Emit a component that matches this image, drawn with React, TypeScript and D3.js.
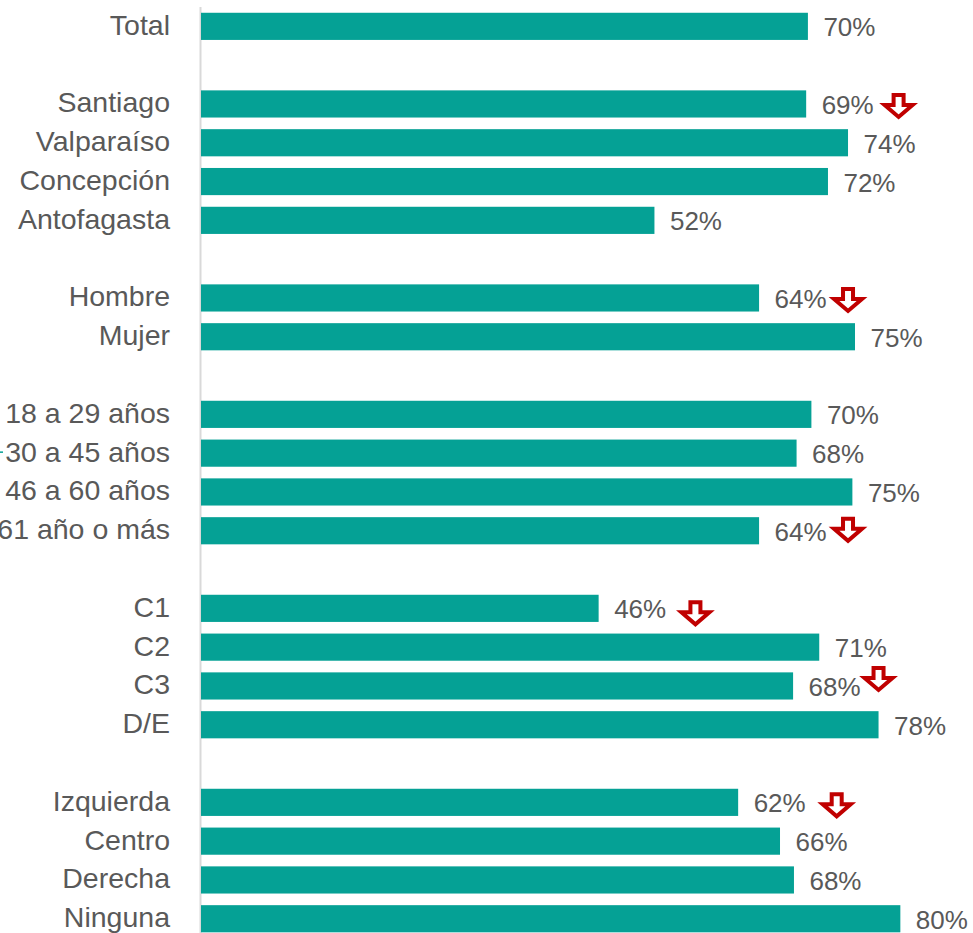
import React from "react";
import * as d3 from "d3";

const categories = [
  "Total", "", "Santiago", "Valparaíso", "Concepción", "Antofagasta", " ",
  "Hombre", "Mujer", "  ", "18 a 29 años", "30 a 45 años", "46 a 60 años", "61 año o más", "   ",
  "C1", "C2", "C3", "D/E", "    ", "Izquierda", "Centro", "Derecha", "Ninguna",
];

const barCategories = [
  "Total", "Santiago", "Valparaíso", "Concepción", "Antofagasta",
  "Hombre", "Mujer", "18 a 29 años", "30 a 45 años", "46 a 60 años", "61 año o más",
  "C1", "C2", "C3", "D/E", "Izquierda", "Centro", "Derecha", "Ninguna",
];

const barValues = [
  69.6, 69.4, 74.2, 71.9, 52.0,
  64.0, 75.0, 70.0, 68.3, 74.7, 64.0,
  45.6, 70.9, 67.9, 77.7, 61.6, 66.4, 68.0, 80.2,
];

const valueLabels = [
  "70%", "69%", "74%", "72%", "52%",
  "64%", "75%", "70%", "68%", "75%", "64%",
  "46%", "71%", "68%", "78%", "62%", "66%", "68%", "80%",
];

// down-arrow annotations: category, anchor in value units, vertical offset
const arrowCats = ["Santiago", "Hombre", "61 año o más", "C1", "C3", "Izquierda"];
const arrowAt = [80.0, 74.2, 74.2, 56.7, 77.7, 72.9];
const arrowLift = [11, 11, 14, 8, 20, 10];

const W = 973;
const H = 933;

export default function App() {
  const x = d3.scaleLinear().domain([0, 100]).range([201, 1073]);
  const y = d3
    .scaleBand<string>()
    .domain(categories)
    .range([6.95, 6.95 + 24 * 38.8])
    .paddingInner(0.3)
    .paddingOuter(0.15);
  const bw = y.bandwidth();
  const teal = "#05A195";
  const grey = "#595959";
  const red = "#C00000";

  const arrowPath = (cx: number, top: number) => {
    // outer dims approx: head width 32, shaft width 14, height 27
    const s = 2; // inset for stroke
    const hw = 16 - s, sw = 7 - s;
    const t = top + s, hy = top + 12, tip = top + 27 - s * 1.5;
    return `M${cx - sw},${t} L${cx + sw},${t} L${cx + sw},${hy} L${cx + hw},${hy} L${cx},${tip} L${cx - hw},${hy} L${cx - sw},${hy} Z`;
  };

  return (
    <svg
      width={W}
      height={H}
      style={{ position: "absolute", left: 0, top: 0, display: "block", background: "#fff" }}
      fontFamily="'Liberation Sans', Arial, sans-serif"
    >
      <line x1={200.5} x2={200.5} y1={7} y2={H} stroke="#D9D9D9" strokeWidth={2} />
      {barCategories.map((c, i) => {
        const yc = (y(c) as number) + bw / 2;
        return (
          <g key={c}>
            <rect x={x(0)} y={y(c)} width={x(barValues[i]) - x(0)} height={bw} fill={teal} />
            <text
              x={170}
              y={yc + 8.5}
              textAnchor="end"
              fontSize={28.5}
              fill={grey}
            >
              {c}
            </text>
            <text x={x(barValues[i]) + 15.5} y={yc + 10} fontSize={26} fill={grey}>
              {valueLabels[i]}
            </text>
          </g>
        );
      })}
      {arrowCats.map((c, i) => {
        const yc = (y(c) as number) + bw / 2;
        return (
          <path
            key={"a" + c}
            d={arrowPath(x(arrowAt[i]), yc - arrowLift[i])}
            fill="#fff"
            stroke={red}
            strokeWidth={4}
            strokeLinejoin="miter"
          />
        );
      })}
      <line
        x1={0}
        x2={3}
        y1={(y("30 a 45 años") as number) + bw / 2 - 1}
        y2={(y("30 a 45 años") as number) + bw / 2 - 1}
        stroke={teal}
        strokeWidth={1.5}
      />
    </svg>
  );
}
